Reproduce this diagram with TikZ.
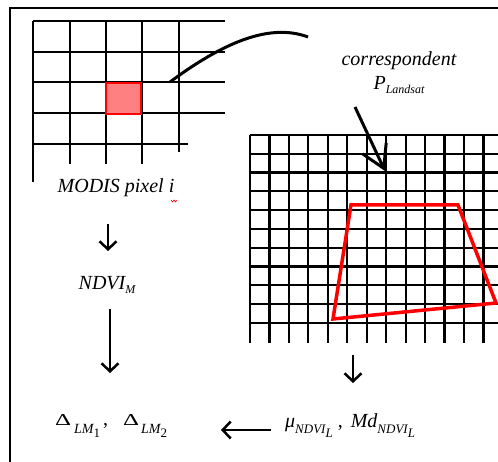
\documentclass[tikz,border=0pt]{standalone}
\usepackage{fontspec}
\usepackage{graphicx}
\setmainfont{Liberation Serif}
\usetikzlibrary{arrows.meta}
\newcommand{\mysub}[1]{\raisebox{-0.45ex}{\fontsize{12}{12}\selectfont #1}}
\newcommand{\lowered}[3]{\raisebox{-#1}{\fontsize{#2}{#2}\selectfont #3}}
\newcommand{\flatdelta}{\resizebox{16pt}{11pt}{\upshape Δ}}
\begin{document}
\begin{tikzpicture}[x=1pt,y=-1pt,
  gridline/.style={line width=2.8pt, black},
  fineline/.style={line width=2.2pt, black},
  lbl/.style={font=\fontsize{20}{24}\selectfont\itshape, inner sep=0pt},
  flow/.style={line width=2.5pt, -{Straight Barb[length=8pt,width=17pt]}},
  bigflow/.style={line width=3pt, -{Straight Barb[length=22pt,width=26pt]}},
  outline/.style={red, line width=3.5pt, line join=miter}
]
\useasboundingbox (0,0) rectangle (498,462);
\clip (0,0) rectangle (498,462);
% frame
\draw[line width=1.6pt] (10,470) -- (10,8) -- (510,8);
% small MODIS grid
\foreach \y in {21,52,82,113} \draw[gridline] (33,\y) -- (225,\y);
\draw[gridline] (33,144) -- (188,144);
\draw[gridline] (33,21) -- (33,182);
\foreach \x in {70,106,142} \draw[gridline] (\x,21) -- (\x,164);
\draw[gridline] (179,21) -- (179,152);
\draw[red, line width=2pt, fill={rgb,255:red,255;green,128;blue,128}] (106,83) rectangle (141,114);
% connecting curve
\coordinate (cs) at (170,82);
\coordinate (ce) at (308,37);
\draw[line width=3pt] (cs) .. controls (220,45) and (268,22) .. (ce);
% large Landsat grid
\foreach \k in {0,...,13} \draw[fineline] (250+19.45*\k,135) -- (250+19.45*\k,343);
\foreach \j in {0,...,10} \draw[fineline] (250,135+18.8*\j) -- (510,135+18.8*\j);
\draw[outline] (351,205) -- (458,205) -- (496,303) -- (333,319) -- cycle;
% labels
\node[lbl] (corr) at (399,61) {correspondent};
\node[lbl] (pl) at (399,85) {P\mysub{Landsat}};
\node[lbl] (modis) at (116,188) {MODIS pixel i};
\draw[red, line width=0.6pt] (171,200) -- (172.5,202) -- (174,200) -- (175.5,202) -- (177,200);
\node[lbl] (ndvi) at (107,285) {NDVI\mysub{M}};
\node[lbl, anchor=base west] (delta) at (55,425)
  {\flatdelta\hspace{3pt}\lowered{8pt}{14}{LM\lowered{4pt}{13}{\upshape 1}}\hspace{3pt}{\upshape ,}\hspace{15pt}\flatdelta\hspace{2pt}\lowered{8pt}{14}{LM\lowered{4pt}{13}{\upshape 2}}};
\node[lbl, anchor=base west] (mu) at (285,427)
  {μ\lowered{6pt}{13}{NDVI\lowered{4pt}{13}{L}}\hspace{5pt}{\upshape ,}\hspace{8pt}Md\lowered{6pt}{13}{NDVI\lowered{4pt}{13}{L}}};
% arrows
\coordinate (p1) at (355,107);
\coordinate (p2) at (385,171);
\draw[bigflow] (p1) -- (p2);
\coordinate (a1) at (108,224);
\coordinate (a1e) at (108,251);
\draw[flow] (a1) -- (a1e);
\coordinate (a2) at (110,309);
\coordinate (a2e) at (110,373);
\draw[flow] (a2) -- (a2e);
\coordinate (a3) at (353,355);
\coordinate (a3e) at (353,383);
\draw[flow] (a3) -- (a3e);
\coordinate (a4) at (271,430);
\coordinate (a4e) at (221,430);
\draw[flow] (a4) -- (a4e);
\end{tikzpicture}
\end{document}
